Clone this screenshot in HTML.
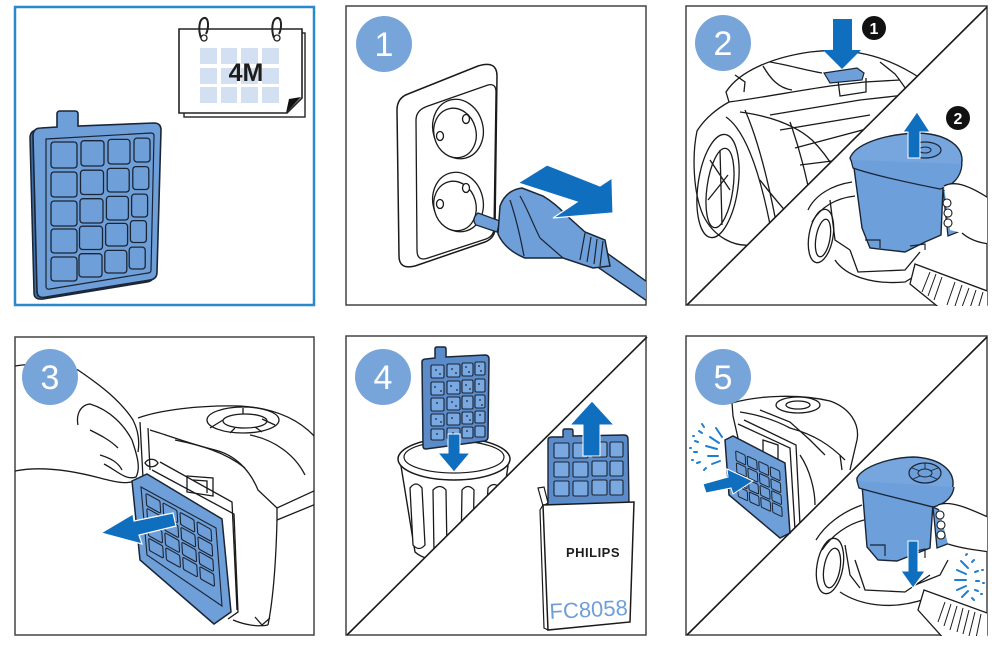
<!DOCTYPE html>
<html><head><meta charset="utf-8"><style>
html,body{margin:0;padding:0;background:#fff;}
svg{display:block;}
text{font-family:"Liberation Sans",sans-serif;}
</style></head><body>
<svg width="1000" height="645" viewBox="0 0 1000 645" xmlns="http://www.w3.org/2000/svg">
<defs>
<clipPath id="c3ul"><polygon points="686,6 987,6 686,306"/></clipPath>
<clipPath id="c3lr"><polygon points="987,6 987,306 686,306"/></clipPath>
<clipPath id="c5ul"><polygon points="346,336 646,336 346,636"/></clipPath>
<clipPath id="c5lr"><polygon points="646,336 646,636 346,636"/></clipPath>
<clipPath id="c6ul"><polygon points="686,336 987,336 686,636"/></clipPath>
<clipPath id="c6lr"><polygon points="987,336 987,636 686,636"/></clipPath>
<clipPath id="c2"><rect x="346" y="6" width="300" height="299"/></clipPath>
<clipPath id="c4"><rect x="15" y="337" width="299" height="298"/></clipPath>
</defs>

<!-- ================= PANEL 1 ================= -->
<rect x="15" y="7" width="299" height="298" fill="#fff" stroke="#2a88cc" stroke-width="2.5"/>
<rect x="184" y="33" width="121" height="84" fill="#fff" stroke="#222" stroke-width="1.4"/>
<path d="M179,29 H302 V98 L287,113 H179 Z" fill="#fff" stroke="#222" stroke-width="1.6"/>
<polygon points="286,113 301,97 289,99" fill="#111"/>
<g fill="#d3e0f1">
<rect x="200" y="48" width="17" height="16"/><rect x="221" y="48" width="16" height="16"/><rect x="241" y="48" width="17" height="16"/><rect x="262" y="48" width="17" height="16"/>
<rect x="200" y="68" width="17" height="16"/><rect x="221" y="68" width="16" height="16"/><rect x="241" y="68" width="17" height="16"/><rect x="262" y="68" width="17" height="16"/>
<rect x="200" y="87" width="17" height="16"/><rect x="221" y="87" width="16" height="16"/><rect x="241" y="87" width="17" height="16"/><rect x="262" y="87" width="17" height="16"/>
</g>
<text x="246" y="81" text-anchor="middle" font-size="25" font-weight="bold" fill="#1d1d1d">4M</text>
<g fill="none" stroke="#222" stroke-width="2">
<path d="M201,38 C198,30 199,19 204,18 C209,17 209,28 206,34"/>
<path d="M274,38 C271,30 272,19 277,18 C282,17 282,28 279,34"/>
</g>
<circle cx="204" cy="38" r="3" fill="#fff" stroke="#222" stroke-width="1.3"/>
<circle cx="277" cy="38" r="3" fill="#fff" stroke="#222" stroke-width="1.3"/>
<path d="M30,138 Q30,130 38,130 L54,129 L75,128 L151,125 Q158,125 158,132 L154,274 Q154,281 147,282 L43,299 Q34,300 34,293 Z" fill="#3f6ea8" stroke="#1a2535" stroke-width="1.5"/>
<path d="M33,136 Q33,128 41,128 L57,127 L57,114 Q57,111 60,111 L75,111 Q78,111 78,114 L78,126 L154,123 Q161,123 161,130 L157,272 Q157,279 150,280 L46,297 Q37,299 37,291 Z" fill="#6f9fd8" stroke="#1a2535" stroke-width="1.6"/>
<path d="M46,139 L151,133 Q154,133 154,136 L151,270 Q151,273 148,273 L50,289 Q46,290 46,286 Z" fill="none" stroke="#1a2535" stroke-width="1.2"/>
<g fill="#6f9fd8" stroke="#1a2535" stroke-width="1.3">
<rect x="51" y="142" width="26" height="26" rx="3"/><rect x="81" y="140.7" width="23" height="25.3" rx="3"/><rect x="108" y="139.4" width="22" height="24.6" rx="3"/><rect x="134" y="138.1" width="16" height="23.9" rx="3"/>
<rect x="51" y="172" width="26" height="25" rx="3"/><rect x="80.5" y="170.2" width="23" height="24.3" rx="3"/><rect x="107.2" y="168.4" width="22" height="23.6" rx="3"/><rect x="132.8" y="166.6" width="16" height="22.9" rx="3"/>
<rect x="51" y="201" width="26" height="25" rx="3"/><rect x="80" y="198.7" width="23" height="24.3" rx="3"/><rect x="106.4" y="196.4" width="22" height="23.6" rx="3"/><rect x="131.6" y="194.1" width="16" height="22.9" rx="3"/>
<rect x="51" y="229" width="26" height="24" rx="3"/><rect x="79.5" y="226.2" width="23" height="23.3" rx="3"/><rect x="105.6" y="223.4" width="22" height="22.6" rx="3"/><rect x="130.4" y="220.6" width="16" height="21.9" rx="3"/>
<rect x="51" y="257" width="26" height="24" rx="3"/><rect x="79" y="253.7" width="23" height="23.3" rx="3"/><rect x="104.8" y="250.4" width="22" height="22.6" rx="3"/><rect x="129.2" y="247.1" width="16" height="21.9" rx="3"/>
</g>

<!-- ================= PANEL 2 (step 1) ================= -->
<rect x="346" y="6" width="300" height="299" fill="#fff" stroke="#444" stroke-width="1.5"/>
<g clip-path="url(#c2)">
<path d="M397,110 Q397,98 408,94 L478,66 Q497,60 497,76 L495,228 Q495,238 485,242 L415,266 Q399,270 399,256 Z" fill="#fff" stroke="#1a1a1a" stroke-width="1.5"/>
<path d="M428,106 L488,85 Q496,83 496,92 L494,228 Q494,236 486,239 L428,258 Q417,262 417,250 L416,120 Q416,110 428,106 Z" fill="#fff" stroke="#1a1a1a" stroke-width="1.3"/>
<g fill="#fff" stroke="#1a1a1a" stroke-width="1.3">
<ellipse cx="458" cy="129" rx="25" ry="30" transform="rotate(-15 458 129)"/>
<ellipse cx="455" cy="133" rx="21" ry="25" transform="rotate(-15 455 133)"/>
<ellipse cx="440" cy="136" rx="3.5" ry="4.5"/><ellipse cx="466" cy="119" rx="3.5" ry="4.5"/>
<ellipse cx="458" cy="202" rx="25" ry="30" transform="rotate(-15 458 202)"/>
<ellipse cx="455" cy="206" rx="21" ry="25" transform="rotate(-15 455 206)"/>
<ellipse cx="440" cy="204" rx="3.5" ry="4.5"/><ellipse cx="466" cy="188" rx="3.5" ry="4.5"/>
</g>
<polygon points="600,248 650,284 650,303 596,266" fill="#6f9fd8" stroke="#1a2535" stroke-width="1.4"/>
<path d="M478,213 L500,221 L497,232 L476,225 Q471,219 478,213 Z" fill="#6f9fd8" stroke="#1a2535" stroke-width="1.3"/>
<path d="M500,206 Q506,190 522,188 L543,196 Q556,204 565,214 L585,232 L605,240 L610,266 L593,268 L563,258 L525,258 Q505,250 498,234 Z" fill="#6f9fd8" stroke="#1a2535" stroke-width="1.5"/>
<g fill="none" stroke="#1a2535" stroke-width="1.2">
<path d="M510,200 C515,215 520,235 524,256"/>
<path d="M520,196 C528,210 532,222 540,238"/>
<path d="M585,233 L580,260 M591,237 L587,262 M597,239 L594,264 M603,241 L600,266"/>
<path d="M540,238 L563,258"/>
</g>
<polygon points="518,183 547,165 600,186 612,178 613,213 553,218 577,202" fill="#106ebe" stroke="#fff" stroke-width="1.2"/>
</g>
<circle cx="384" cy="44" r="28" fill="#78a5d9"/>
<text x="384" y="56" text-anchor="middle" font-size="34" fill="#fff">1</text>

<!-- ================= PANEL 3 (step 2) ================= -->
<rect x="686" y="6" width="301" height="299" fill="#fff" stroke="#444" stroke-width="1.5"/>
<g clip-path="url(#c3ul)" fill="none" stroke="#1a1a1a" stroke-width="1.3">
<path d="M752,245 C735,247 714,238 703,215 C693,192 692,155 697,131 C705,118 718,108 729,102 L726,92 C740,70 775,57 810,52 C850,47 885,55 920,78"/>
<path d="M729,102 C760,98 790,92 830,86 L865,82 L900,80"/>
<ellipse cx="718" cy="186" rx="20" ry="52" transform="rotate(8 718 186)"/>
<ellipse cx="720" cy="188" rx="13" ry="40" transform="rotate(8 720 188)"/>
<path d="M710,160 L730,190 M708,200 L728,175 M720,150 L722,225"/>
<path d="M726,117 C745,130 760,170 772,235"/>
<path d="M740,112 C770,116 795,125 812,140 C830,158 842,180 852,205"/>
<path d="M763,66 C770,78 778,88 792,90 M770,62 C788,65 805,70 822,73"/>
<path d="M770,115 L860,100 L905,95 M780,130 L870,115"/>
<path d="M795,148 L900,120 M800,165 L840,160"/>
<path d="M838,80 L840,96 L866,92 L866,78"/>
<path d="M880,62 L895,74 C900,80 905,88 910,95"/>
<path d="M760,180 C775,200 790,215 800,230"/>
<path d="M745,110 C758,140 768,180 776,222"/>
<path d="M790,122 C800,150 806,175 812,205"/>
<path d="M735,75 L745,82 L744,92 M905,90 C912,96 915,104 912,110"/>
</g>
<path d="M824,73 L857,68 L864,73 L862,80 L830,83 Z" fill="#6f9fd8" stroke="#1a2535" stroke-width="1.2"/>
<polygon points="833,19 852,19 852,50 861,50 842,69 823,50 833,50" fill="#106ebe"/>
<circle cx="874" cy="28" r="12" fill="#111"/>
<text x="874" y="34" text-anchor="middle" font-size="16" font-weight="bold" fill="#fff">1</text>
<g clip-path="url(#c3lr)">
<g fill="none" stroke="#1a1a1a" stroke-width="1.3">
<ellipse cx="821" cy="236" rx="12" ry="27" transform="rotate(10 821 236)"/>
<ellipse cx="823" cy="238" rx="7" ry="19" transform="rotate(10 823 238)"/>
<path d="M808,210 C815,195 832,185 852,182"/>
<path d="M812,222 C822,205 838,198 855,196"/>
<path d="M835,260 C845,275 870,285 905,282 L925,270"/>
<path d="M850,250 L858,272 L905,270 L920,252"/>
<path d="M830,200 L835,240 L850,250"/>
</g>
<polygon points="915,264 990,292 990,310 942,310 910,284" fill="#fff" stroke="#1a1a1a" stroke-width="1.3"/>
<g stroke="#1a1a1a" stroke-width="1">
<path d="M930,272 L922,292 M936,274 L928,296 M942,277 L934,300 M955,282 L947,305 M962,285 L955,306 M969,288 L962,307 M976,290 L970,308 M983,292 L978,309"/>
</g>
<path d="M854,168 L862,228 L870,248 L905,252 L925,242 L941,235 L943,188 C920,183 880,175 854,168 Z" fill="#6d9fdb" stroke="#1a2535" stroke-width="1.4"/>
<path d="M850,158 C855,145 880,135 915,133 C945,133 962,145 962,160 C962,172 952,180 940,182 L870,168 C860,166 851,164 850,158 Z" fill="#76a6dd" stroke="#1a2535" stroke-width="1.4"/>
<path d="M851,160 L853,168 C870,174 905,182 940,189 C952,186 961,178 962,164" fill="#6d9fdb" stroke="#1a2535" stroke-width="1.3"/>
<ellipse cx="925" cy="150" rx="16" ry="8" fill="#6d9fdb" stroke="#1a2535" stroke-width="1.2"/>
<ellipse cx="925" cy="150" rx="6" ry="3" fill="none" stroke="#1a2535" stroke-width="1"/>
<path d="M943,190 L960,195 L963,230 L948,236 Z" fill="#6d9fdb" stroke="#1a2535" stroke-width="1.3"/>
<path d="M865,240 L880,240 L880,248 M910,246 L925,244 L925,250" fill="none" stroke="#1a2535" stroke-width="1.2"/>
<path d="M944,186 C955,180 970,186 990,199 L990,244 C980,242 970,240 962,233 L950,230 Z" fill="#fff" stroke="none"/>
<path d="M944,186 C955,180 970,186 990,199 M962,233 C970,240 980,243 990,244" fill="none" stroke="#1a1a1a" stroke-width="1.3"/>
<g fill="#fff" stroke="#1a1a1a" stroke-width="1.1">
<ellipse cx="947" cy="203" rx="4" ry="4"/><ellipse cx="948" cy="213" rx="4" ry="4"/><ellipse cx="948" cy="223" rx="4" ry="4"/>
</g>
</g>
<polygon points="908,158 920,158 920,132 930,132 917,112 903,132 908,132" fill="#106ebe" stroke="#fff" stroke-width="1"/>
<circle cx="958" cy="118" r="12" fill="#111"/>
<text x="958" y="124" text-anchor="middle" font-size="16" font-weight="bold" fill="#fff">2</text>
<line x1="687" y1="305" x2="987" y2="7" stroke="#1a1a1a" stroke-width="1.6"/>
<circle cx="723" cy="43" r="28" fill="#78a5d9"/>
<text x="723" y="55" text-anchor="middle" font-size="34" fill="#fff">2</text>

<!-- ================= PANEL 4 (step 3) ================= -->
<rect x="15" y="337" width="299" height="298" fill="#fff" stroke="#444" stroke-width="1.5"/>
<g clip-path="url(#c4)" fill="none" stroke="#1a1a1a" stroke-width="1.3">
<path d="M15,366 C40,362 60,364 78,370 C100,385 120,400 133,420 C138,430 140,440 138,452"/>
<path d="M78,425 C76,415 80,405 90,404 C110,410 124,425 132,440 C137,455 141,468 136,477 C126,481 116,470 104,464"/>
<path d="M15,471 C40,466 70,470 100,478 C115,482 130,486 140,478"/>
<path d="M90,430 C100,435 110,440 118,448 M100,455 C110,458 118,462 122,470"/>
<path d="M138,418 C160,410 200,405 240,406 C275,408 300,420 316,438"/>
<ellipse cx="243" cy="420" rx="36" ry="13"/>
<ellipse cx="245" cy="421" rx="22" ry="7"/>
<path d="M223,420 L210,428 M243,414 L243,408 M262,419 L275,425 M235,428 L230,433 M255,427 L262,432"/>
<path d="M140,422 L143,478 M148,428 L150,470"/>
<path d="M150,430 C170,436 190,444 215,450 C235,455 250,470 258,490 L277,508 L316,490"/>
<path d="M277,508 L277,520 L316,504"/>
<path d="M277,520 C276,560 273,600 268,625 M233,620 C245,625 258,627 268,625"/>
<path d="M152,470 L234,514 L238,612 L228,619"/>
<path d="M160,462 L232,502 L237,610"/>
<path d="M187,476 L213,478 L213,496 L187,492 Z M193,480 L207,481 L207,493"/>
<path d="M175,440 C200,445 225,452 245,468 M250,435 C275,440 295,455 305,475"/>
<path d="M255,617 L262,625 L270,618"/>
<path d="M145,463 C148,458 155,458 158,463 C155,468 148,468 145,463 Z"/>
</g>
<path d="M132,481 L147,474 L222,519 L231,612 L214,624 L140,560 Z" fill="#6f9fd8" stroke="#1a2535" stroke-width="1.5"/>
<path d="M141,487 L216,528 L222,606 L147,555 Z" fill="none" stroke="#1a2535" stroke-width="1.1"/>
<g transform="matrix(0.74,0.41,0.04,0.65,142,488)" fill="#6f9fd8" stroke="#1a2535" stroke-width="1.1">
<rect x="5" y="5" width="19" height="19" rx="2" vector-effect="non-scaling-stroke"/><rect x="28" y="5" width="19" height="19" rx="2" vector-effect="non-scaling-stroke"/><rect x="51" y="5" width="19" height="19" rx="2" vector-effect="non-scaling-stroke"/><rect x="74" y="5" width="19" height="19" rx="2" vector-effect="non-scaling-stroke"/>
<rect x="5" y="28" width="19" height="19" rx="2" vector-effect="non-scaling-stroke"/><rect x="28" y="28" width="19" height="19" rx="2" vector-effect="non-scaling-stroke"/><rect x="51" y="28" width="19" height="19" rx="2" vector-effect="non-scaling-stroke"/><rect x="74" y="28" width="19" height="19" rx="2" vector-effect="non-scaling-stroke"/>
<rect x="5" y="51" width="19" height="19" rx="2" vector-effect="non-scaling-stroke"/><rect x="28" y="51" width="19" height="19" rx="2" vector-effect="non-scaling-stroke"/><rect x="51" y="51" width="19" height="19" rx="2" vector-effect="non-scaling-stroke"/><rect x="74" y="51" width="19" height="19" rx="2" vector-effect="non-scaling-stroke"/>
<rect x="5" y="74" width="19" height="19" rx="2" vector-effect="non-scaling-stroke"/><rect x="28" y="74" width="19" height="19" rx="2" vector-effect="non-scaling-stroke"/><rect x="51" y="74" width="19" height="19" rx="2" vector-effect="non-scaling-stroke"/><rect x="74" y="74" width="19" height="19" rx="2" vector-effect="non-scaling-stroke"/>
</g>
<polygon points="101,533 133,514 134,521 173,513 176,526 139,535 142,544" fill="#106ebe" stroke="#fff" stroke-width="1.2"/>
<circle cx="50" cy="377" r="28" fill="#78a5d9"/>
<text x="50" y="389" text-anchor="middle" font-size="34" fill="#fff">3</text>

<!-- ================= PANEL 5 (step 4) ================= -->
<rect x="346" y="336" width="300" height="299" fill="#fff" stroke="#444" stroke-width="1.5"/>
<g clip-path="url(#c5ul)">
<path d="M401,466 L415,552 C430,566 480,566 495,552 L508,466 Z" fill="#fff" stroke="#1a1a1a" stroke-width="1.4"/>
<g fill="#fff" stroke="#1a1a1a" stroke-width="1.3">
<path d="M410,488 Q416,480 422,488 L425,545 Q419,552 413,545 Z"/>
<path d="M433,490 Q440,483 446,490 L447,552 Q440,558 434,552 Z"/>
<path d="M462,490 Q468,483 474,490 L473,550 Q467,556 461,550 Z"/>
<path d="M488,488 Q494,481 500,488 L496,540 Q490,546 485,540 Z"/>
</g>
<ellipse cx="454" cy="459" rx="56" ry="21" fill="#fff" stroke="#1a1a1a" stroke-width="1.5"/>
<ellipse cx="454" cy="457" rx="50" ry="16" fill="#fff" stroke="#1a1a1a" stroke-width="1.2"/>
</g>
<path d="M422,362 Q422,359 426,359 L435,358 L435,349 Q435,347 437,347 L444,347 Q446,347 446,349 L446,357 L485,355 Q489,355 489,359 L488,437 Q488,440 485,441 L426,449 Q423,449 423,446 Z" fill="#5b8bc9" stroke="#1a2535" stroke-width="1.5"/>
<g fill="#7aa8e0" stroke="#1a2535" stroke-width="1.1">
<rect x="431" y="365" width="13" height="13" rx="1.5"/><rect x="447" y="364" width="13" height="13" rx="1.5"/><rect x="462" y="363" width="11" height="13" rx="1.5"/><rect x="475" y="362" width="10" height="13" rx="1.5"/>
<rect x="431" y="382" width="13" height="13" rx="1.5"/><rect x="447" y="381" width="13" height="13" rx="1.5"/><rect x="462" y="380" width="11" height="13" rx="1.5"/><rect x="475" y="379" width="10" height="13" rx="1.5"/>
<rect x="431" y="398" width="13" height="13" rx="1.5"/><rect x="447" y="397" width="13" height="13" rx="1.5"/><rect x="462" y="396" width="11" height="13" rx="1.5"/><rect x="475" y="395" width="10" height="13" rx="1.5"/>
<rect x="431" y="414" width="13" height="12" rx="1.5"/><rect x="447" y="413" width="13" height="12" rx="1.5"/><rect x="462" y="412" width="11" height="12" rx="1.5"/><rect x="475" y="411" width="10" height="12" rx="1.5"/>
<rect x="431" y="429" width="13" height="11" rx="1.5"/><rect x="447" y="428" width="13" height="11" rx="1.5"/><rect x="462" y="427" width="11" height="11" rx="1.5"/><rect x="475" y="426" width="10" height="11" rx="1.5"/>
</g>
<g fill="#1a2535">
<circle cx="436" cy="370" r="0.9"/><circle cx="440" cy="374" r="0.9"/><circle cx="452" cy="369" r="0.9"/><circle cx="456" cy="373" r="0.9"/><circle cx="466" cy="367" r="0.9"/><circle cx="469" cy="372" r="0.9"/><circle cx="479" cy="366" r="0.9"/><circle cx="481" cy="371" r="0.9"/>
<circle cx="435" cy="387" r="0.9"/><circle cx="441" cy="391" r="0.9"/><circle cx="451" cy="386" r="0.9"/><circle cx="457" cy="390" r="0.9"/><circle cx="466" cy="385" r="0.9"/><circle cx="470" cy="389" r="0.9"/><circle cx="479" cy="384" r="0.9"/>
<circle cx="437" cy="403" r="0.9"/><circle cx="452" cy="402" r="0.9"/><circle cx="456" cy="406" r="0.9"/><circle cx="467" cy="401" r="0.9"/><circle cx="480" cy="400" r="0.9"/><circle cx="482" cy="405" r="0.9"/>
<circle cx="436" cy="419" r="0.9"/><circle cx="441" cy="422" r="0.9"/><circle cx="452" cy="418" r="0.9"/><circle cx="467" cy="416" r="0.9"/><circle cx="470" cy="420" r="0.9"/><circle cx="480" cy="415" r="0.9"/>
<circle cx="437" cy="434" r="0.9"/><circle cx="453" cy="433" r="0.9"/><circle cx="467" cy="431" r="0.9"/>
</g>
<polygon points="448,434 460,434 460,453 470,453 454,472 438,453 448,453" fill="#106ebe" stroke="#fff" stroke-width="1"/>
<g clip-path="url(#c5lr)">
<path d="M538,488 L544,487 L548,503 L543,506 Z" fill="#fff" stroke="#1a1a1a" stroke-width="1.2"/>
<path d="M548,440 Q548,437 552,437 L563,437 L563,431 Q563,429 565,429 L571,429 Q573,429 573,431 L573,436 L624,435 Q628,435 628,439 L629,505 L548,507 Z" fill="#5b8bc9" stroke="#1a2535" stroke-width="1.4"/>
<g fill="#7aa8e0" stroke="#1a2535" stroke-width="1.1">
<rect x="554" y="443" width="15" height="15" rx="1.5"/><rect x="573" y="443" width="15" height="15" rx="1.5"/><rect x="592" y="442" width="15" height="15" rx="1.5"/><rect x="610" y="442" width="13" height="15" rx="1.5"/>
<rect x="554" y="462" width="15" height="15" rx="1.5"/><rect x="573" y="462" width="15" height="15" rx="1.5"/><rect x="592" y="461" width="15" height="15" rx="1.5"/><rect x="610" y="461" width="13" height="15" rx="1.5"/>
<rect x="554" y="481" width="15" height="15" rx="1.5"/><rect x="573" y="481" width="15" height="15" rx="1.5"/><rect x="592" y="480" width="15" height="15" rx="1.5"/><rect x="610" y="480" width="13" height="15" rx="1.5"/>
</g>
<path d="M543,505 L634,502 L630,622 L548,630 Z" fill="#fff" stroke="#1a1a1a" stroke-width="1.5"/>
<path d="M543,505 L540,510 L544,628 L548,630" fill="none" stroke="#1a1a1a" stroke-width="1.2"/>
<text x="593" y="557" text-anchor="middle" font-size="13" font-weight="bold" fill="#1e1e1e" letter-spacing="0.5">PHILIPS</text>
<text x="589" y="617" text-anchor="middle" font-size="22" fill="#6f9fd8" transform="rotate(-3 589 617)">FC8058</text>
</g>
<polygon points="583,456 600,456 600,425 614,425 592,401 570,425 583,425" fill="#106ebe" stroke="#fff" stroke-width="1"/>
<line x1="347" y1="635" x2="647" y2="337" stroke="#1a1a1a" stroke-width="1.6"/>
<circle cx="383" cy="377" r="28" fill="#78a5d9"/>
<text x="383" y="389" text-anchor="middle" font-size="34" fill="#fff">4</text>

<!-- ================= PANEL 6 (step 5) ================= -->
<rect x="686" y="336" width="301" height="299" fill="#fff" stroke="#444" stroke-width="1.5"/>
<g clip-path="url(#c6ul)">
<g fill="none" stroke="#1a1a1a" stroke-width="1.3">
<path d="M732,403 C760,395 800,394 830,401 C850,408 860,424 857,440 L850,470"/>
<path d="M732,403 L733,416 L738,438"/>
<ellipse cx="798" cy="405" rx="22" ry="8"/>
<ellipse cx="798" cy="405" rx="12" ry="4"/>
<path d="M740,412 C760,415 775,420 790,428 C815,435 830,445 845,460"/>
<path d="M760,410 L790,422 L810,440 L825,455"/>
<path d="M738,424 L790,448 L795,530 L788,536"/>
<path d="M744,420 L796,445 L800,525"/>
<path d="M763,440 L778,445 L778,460 L763,456 Z"/>
<path d="M840,455 L842,470"/>
<path d="M800,455 C810,470 815,490 815,505"/>
</g>
</g>
<path d="M725,440 L733,436 L785,463 L790,533 L780,538 L729,495 Z" fill="#6f9fd8" stroke="#1a2535" stroke-width="1.5"/>
<g transform="matrix(0.5,0.23,0.03,0.52,733,447)" fill="#6f9fd8" stroke="#1a2535">
<rect x="5" y="5" width="19" height="19" rx="2" vector-effect="non-scaling-stroke"/><rect x="28" y="5" width="19" height="19" rx="2" vector-effect="non-scaling-stroke"/><rect x="51" y="5" width="19" height="19" rx="2" vector-effect="non-scaling-stroke"/><rect x="74" y="5" width="19" height="19" rx="2" vector-effect="non-scaling-stroke"/>
<rect x="5" y="28" width="19" height="19" rx="2" vector-effect="non-scaling-stroke"/><rect x="28" y="28" width="19" height="19" rx="2" vector-effect="non-scaling-stroke"/><rect x="51" y="28" width="19" height="19" rx="2" vector-effect="non-scaling-stroke"/><rect x="74" y="28" width="19" height="19" rx="2" vector-effect="non-scaling-stroke"/>
<rect x="5" y="51" width="19" height="19" rx="2" vector-effect="non-scaling-stroke"/><rect x="28" y="51" width="19" height="19" rx="2" vector-effect="non-scaling-stroke"/><rect x="51" y="51" width="19" height="19" rx="2" vector-effect="non-scaling-stroke"/><rect x="74" y="51" width="19" height="19" rx="2" vector-effect="non-scaling-stroke"/>
<rect x="5" y="74" width="19" height="19" rx="2" vector-effect="non-scaling-stroke"/><rect x="28" y="74" width="19" height="19" rx="2" vector-effect="non-scaling-stroke"/><rect x="51" y="74" width="19" height="19" rx="2" vector-effect="non-scaling-stroke"/><rect x="74" y="74" width="19" height="19" rx="2" vector-effect="non-scaling-stroke"/>
</g>
<polygon points="703,484 728,477 727,469 753,481 733,494 731,488 706,493" fill="#106ebe" stroke="#fff" stroke-width="1"/>
<g stroke="#1e7fd0" stroke-width="2" stroke-linecap="round">
<path d="M710,437 L719,443 M706,446 L717,449 M708,456 L718,456 M712,464 L720,461 M716,428 L722,437"/>
<path d="M699,431 L702,433 M695,441 L698,442 M694,452 L697,452 M697,463 L700,462 M702,424 L704,427 M704,470 L706,468"/>
<path d="M690,448 L691,448 M692,460 L693,460 M693,436 L694,436"/>
</g>
<g clip-path="url(#c6lr)">
<g fill="none" stroke="#1a1a1a" stroke-width="1.3">
<ellipse cx="830" cy="566" rx="13" ry="28" transform="rotate(10 830 566)"/>
<ellipse cx="832" cy="568" rx="8" ry="20" transform="rotate(10 832 568)"/>
<path d="M816,540 C825,525 842,512 862,505"/>
<path d="M822,550 C832,535 848,524 864,520"/>
<path d="M840,592 C858,604 890,612 928,598"/>
<path d="M855,560 L865,590 L905,592 L930,575"/>
<path d="M845,545 L850,575 L860,588"/>
<path d="M915,585 L940,575 L948,560"/>
</g>
<polygon points="924,590 990,614 990,640 945,640 918,610" fill="#fff" stroke="#1a1a1a" stroke-width="1.3"/>
<g stroke="#1a1a1a" stroke-width="1">
<path d="M945,602 L938,622 M951,604 L944,626 M957,606 L950,630 M963,608 L957,632 M969,610 L963,634 M975,612 L969,636 M981,614 L976,638"/>
</g>
<path d="M862,485 L867,547 L878,560 L897,561 L930,548 L933,503 C910,498 880,490 862,485 Z" fill="#6d9fdb" stroke="#1a2535" stroke-width="1.4"/>
<path d="M857,478 C862,468 885,458 913,457 C940,458 954,470 953,485 C952,495 945,501 933,503 L870,488 C862,486 856,484 857,478 Z" fill="#76a6dd" stroke="#1a2535" stroke-width="1.4"/>
<path d="M857,481 L859,488 C875,493 905,500 933,507 C946,504 953,496 954,487" fill="#6d9fdb" stroke="#1a2535" stroke-width="1.3"/>
<ellipse cx="925" cy="473" rx="16" ry="10" fill="#6d9fdb" stroke="#1a2535" stroke-width="1.2"/>
<ellipse cx="925" cy="473" rx="7" ry="4" fill="none" stroke="#1a2535" stroke-width="1"/>
<path d="M912,468 L920,471 M925,463 L925,469 M938,468 L930,471 M913,479 L920,476 M937,479 L930,476" stroke="#1a2535" stroke-width="0.9"/>
<path d="M933,507 L952,516 L950,543 L937,548 Z" fill="#6d9fdb" stroke="#1a2535" stroke-width="1.3"/>
<path d="M870,545 L885,545 L885,556 M912,552 L925,549 L925,558" fill="none" stroke="#1a2535" stroke-width="1.2"/>
<path d="M938,505 C950,500 968,508 990,518 L990,552 C975,550 960,548 948,544 Z" fill="#fff"/>
<path d="M938,505 C950,500 968,508 990,518 M948,544 C960,548 975,550 990,552" fill="none" stroke="#1a1a1a" stroke-width="1.3"/>
<g fill="#fff" stroke="#1a1a1a" stroke-width="1.1">
<ellipse cx="940" cy="515" rx="4" ry="4"/><ellipse cx="941" cy="525" rx="4" ry="4"/><ellipse cx="941" cy="535" rx="4" ry="4"/>
</g>
</g>
<polygon points="908,541 918,541 918,571 925,571 913,588 901,571 908,571" fill="#106ebe" stroke="#fff" stroke-width="1"/>
<g stroke="#1e7fd0" stroke-width="2" stroke-linecap="round">
<path d="M955,580 L966,580 M957,570 L966,574 M957,590 L966,586 M961,561 L968,568 M962,597 L968,591"/>
<path d="M972,562 L974,560 M975,572 L978,571 M976,581 L979,581 M975,590 L978,591 M972,598 L974,600"/>
<path d="M982,570 L983,570 M983,583 L984,583 M981,594 L982,594 M966,555 L967,554"/>
</g>
<line x1="687" y1="635" x2="987" y2="337" stroke="#1a1a1a" stroke-width="1.6"/>
<circle cx="723" cy="377" r="28" fill="#78a5d9"/>
<text x="723" y="389" text-anchor="middle" font-size="34" fill="#fff">5</text>
</svg>
</body></html>
